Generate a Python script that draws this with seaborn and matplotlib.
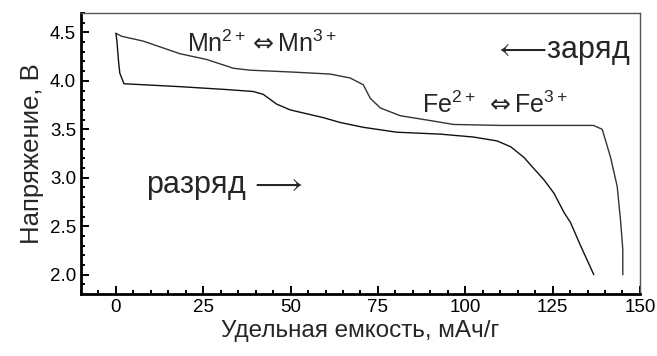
import numpy as np
import pandas as pd
import matplotlib
matplotlib.use('Agg')
import matplotlib.pyplot as plt
from matplotlib.ticker import MultipleLocator
import seaborn as sns

# Charge curve (x = capacity, y = voltage)
charge_cap = [0, 1.6, 7.8, 18.3, 26, 33.6, 38.4, 50.8, 61.3, 67, 70.8, 72.8, 75.7,
              81.4, 90, 96.6, 110, 125, 136.7, 139.2, 140.2, 141.6, 143.5, 144.5,
              145.1, 145.1]
charge_v = [4.49, 4.46, 4.41, 4.28, 4.22, 4.13, 4.11, 4.09, 4.07, 4.03, 3.96, 3.82,
            3.72, 3.64, 3.59, 3.55, 3.54, 3.54, 3.54, 3.50, 3.38, 3.21, 2.91, 2.54,
            2.26, 2.0]

# Discharge curve
disch_cap = [0, 0.3, 0.7, 1.1, 2.3, 18.3, 31.7, 39.3, 42.2, 46, 49.9, 59.4, 64.2,
             70.9, 80.4, 92.9, 102.4, 109.1, 113, 116.8, 119.5, 122.5, 125.4, 128.3,
             130.1, 133, 136.8]
disch_v = [4.49, 4.40, 4.22, 4.08, 3.97, 3.94, 3.91, 3.89, 3.86, 3.76, 3.70, 3.62,
           3.57, 3.52, 3.47, 3.45, 3.42, 3.38, 3.32, 3.21, 3.10, 2.98, 2.84, 2.64,
           2.54, 2.30, 2.0]

sns.set_style("ticks")
plt.rcParams['font.family'] = ['Liberation Sans', 'DejaVu Sans']
plt.rcParams['mathtext.fontset'] = 'custom'
plt.rcParams['mathtext.rm'] = 'Liberation Sans'
plt.rcParams['mathtext.it'] = 'Liberation Sans:italic'
plt.rcParams['mathtext.bf'] = 'Liberation Sans:bold'
plt.rcParams['mathtext.sf'] = 'DejaVu Sans'  # used for the double arrows

df_charge = pd.DataFrame({"cap": charge_cap, "v": charge_v})
df_disch = pd.DataFrame({"cap": disch_cap, "v": disch_v})

fig = plt.figure(figsize=(6.57, 3.56), dpi=100)
ax = fig.add_axes([0.1233, 0.174, 0.974 - 0.1233, 0.9635 - 0.174])

sns.lineplot(data=df_charge, x="cap", y="v", sort=False, estimator=None,
             color="#333333", lw=1.0, ax=ax)
sns.lineplot(data=df_disch, x="cap", y="v", sort=False, estimator=None,
             color="#111111", lw=1.0, ax=ax)

ax.set_xlim(-10, 150)
ax.set_ylim(1.8, 4.7)
ax.xaxis.set_major_locator(MultipleLocator(25))
ax.xaxis.set_minor_locator(MultipleLocator(5))
ax.yaxis.set_major_locator(MultipleLocator(0.5))
ax.yaxis.set_minor_locator(MultipleLocator(0.1))
ax.yaxis.set_major_formatter(matplotlib.ticker.FormatStrFormatter('%.1f'))

ax.tick_params(which='both', direction='in', top=False, right=False,
               width=1.4, colors='black', labelsize=13.5)
ax.tick_params(which='major', length=6)
ax.tick_params(which='minor', length=3)

for side in ['left', 'bottom']:
    ax.spines[side].set_linewidth(2)
    ax.spines[side].set_color('black')
for side in ['top', 'right']:
    ax.spines[side].set_visible(True)
    ax.spines[side].set_linewidth(1)
    ax.spines[side].set_color('#555555')

ax.set_xlabel("Удельная емкость, мАч/г", fontsize=17.5, labelpad=3)
ax.set_ylabel("Напряжение, В", fontsize=18.5, labelpad=4)

ax.text(41.9, 4.293, r'Mn$^{2+}\mathsf{\Leftrightarrow}$Mn$^{3+}$', fontsize=18,
        ha='center', va='baseline')
ax.text(108.4, 3.67, r'Fe$^{2+}$ $\mathsf{\Leftrightarrow}$Fe$^{3+}$', fontsize=18,
        ha='center', va='baseline')
ax.text(147.4, 4.24, r'$\longleftarrow\!$заряд', fontsize=22, ha='right', va='baseline')
ax.text(31.0, 2.845, r'разряд$\,\longrightarrow$', fontsize=22, ha='center', va='baseline')

fig.savefig("out.png", dpi=100)
plt.close(fig)
